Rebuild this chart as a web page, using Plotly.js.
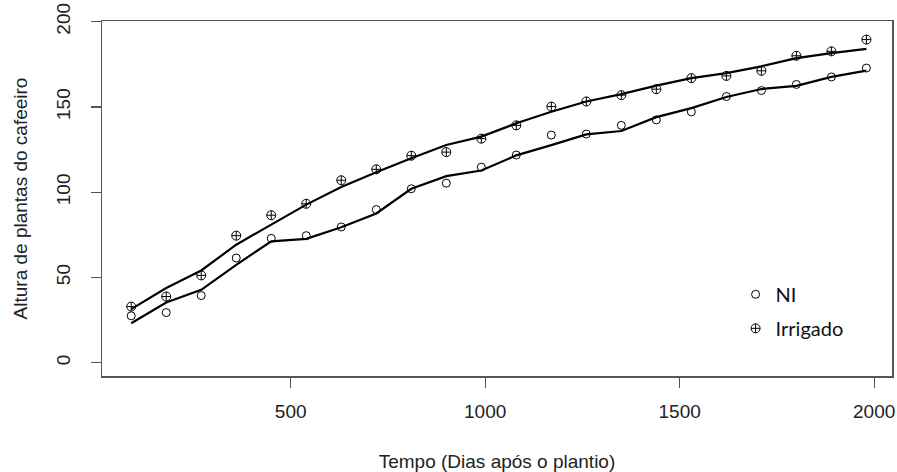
<!DOCTYPE html>
<html>
<head>
<meta charset="utf-8">
<script src="https://cdn.plot.ly/plotly-3.0.1.min.js"></script>
<style>
html,body{margin:0;padding:0;background:#fff;}
#chart{width:897px;height:472px;}
</style>
</head>
<body>
<div id="chart"></div>
<script>
// Days after planting
var dias = [90,180,270,360,450,540,630,720,810,900,990,1080,1170,1260,1350,1440,1530,1620,1710,1800,1890,1980];
// Observed heights
var ni_obs = [27.5,29.4,39.4,61.4,72.9,74.5,79.6,89.8,102,105.3,114.7,121.8,133.5,134.1,139.2,142.4,147.1,156.1,159.6,163.2,167.6,172.8];
var irr_obs = [32.9,38.8,51.2,74.5,86.5,93.2,107,113.4,121.4,123.5,131.4,139.2,150.2,153.2,156.9,160.4,166.9,168.2,171.2,180,182.6,189.5];
// Fitted (smoothed) curves
var ni_fit = [23.1,35.3,42.7,57.4,71.2,72.6,79.4,87.5,102,109.4,112.7,121.6,127.6,133.9,135.9,144,149.3,155.8,160.5,162.4,167.6,171.3];
var irr_fit = [31.4,43.8,54.1,69.2,81,92.7,103,111.7,119.9,127.7,132.6,140.4,147.2,153.2,157.5,162.5,166.9,169.8,173.8,178.6,181.6,184];
var nomes = ["NI","Irrigado"];
var xTicks = [500,1000,1500,2000];
var yTicks = [0,50,100,150,200];

var traces = [
  {x: dias, y: ni_fit, mode:'lines', line:{color:'#000', width:2.2}, showlegend:false, hoverinfo:'skip'},
  {x: dias, y: irr_fit, mode:'lines', line:{color:'#000', width:2.2}, showlegend:false, hoverinfo:'skip'},
  {x: dias, y: ni_obs, mode:'markers', name: nomes[0], legendgroup:'a',
   marker:{symbol:'circle-open', size:8, color:'#000', line:{width:1, color:'#000'}}},
  {x: dias, y: irr_obs, mode:'markers', name: nomes[1], legendgroup:'b',
   marker:{symbol:'circle-cross-open', size:9, color:'#000', line:{width:1, color:'#000'}}}
];

var txtFont = {family:'Liberation Sans, Arial, sans-serif', size:19, color:'#222'};

var axisCommon = {
  showgrid:false, zeroline:false, showline:true, mirror:true,
  linecolor:'#555', linewidth:1.5, ticks:'outside', ticklen:10, tickwidth:1.3, tickcolor:'#555',
  tickfont:txtFont
};

var layout = {
  width:897, height:472,
  margin:{l:102, r:5, t:21, b:96},
  paper_bgcolor:'#fff', plot_bgcolor:'#fff',
  xaxis: Object.assign({}, axisCommon, {
    range:[14.9, 2045.8], tickvals:xTicks, ticktext:xTicks.map(String),
    ticklabelstandoff:8,
    title:{text:'Tempo (Dias após o plantio)', standoff:36, font:txtFont}
  }),
  yaxis: Object.assign({}, axisCommon, {
    range:[-7.8, 200.4], tickvals:yTicks, ticktext:yTicks.map(String),
    tickangle:-90, ticklabelstandoff:13,
    title:{text:'Altura de plantas do cafeeiro', standoff:20, font:txtFont}
  }),
  showlegend:true,
  legend:{x:0.802, y:0.285, xanchor:'left', yanchor:'top', bgcolor:'rgba(0,0,0,0)',
    traceorder:'grouped', tracegroupgap:5, itemwidth:30,
    font:{family:'Lato, Open Sans, sans-serif', size:20, color:'#111'}}
};

Plotly.newPlot('chart', traces, layout, {displayModeBar:false, staticPlot:true});
</script>
</body>
</html>
